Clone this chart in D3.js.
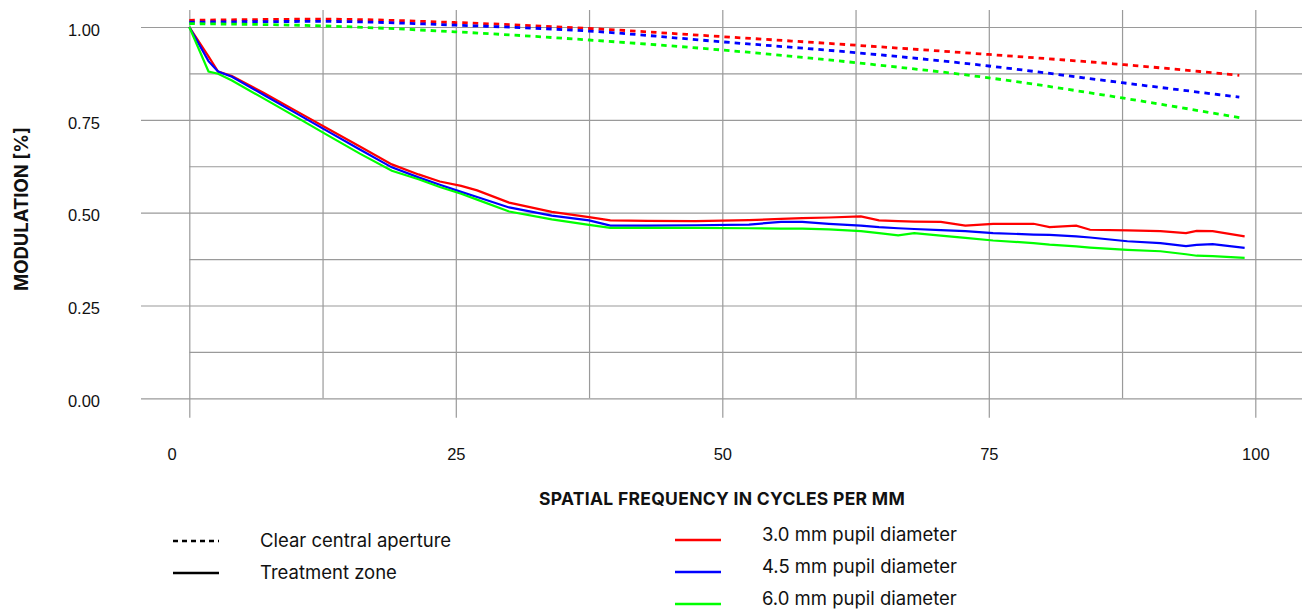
<!DOCTYPE html>
<html>
<head>
<meta charset="utf-8">
<script src="https://cdn.jsdelivr.net/npm/d3@7"></script>
<style>
  body { margin: 0; background: #fff; }
  svg { display: block; font-family: Inter, "Open Sans", sans-serif; }
  .grid line { stroke: #9a9a9a; stroke-width: 1.2; }
  .grid path { display: none; }
  .tick text { fill: #111; font-size: 16.5px; }
  .title { font-weight: 700; fill: #111; }
  .legend text { font-size: 18.5px; fill: #111; }
</style>
</head>
<body>
<div id="chart"></div>
<script>
// spatial frequency (cycles/mm) sample points
const treatmentFreq = [0, 1.8, 2.7, 4, 7, 10, 13, 16, 19, 21.5, 23.5, 25.5, 27, 30, 34, 37.5, 39.5, 43, 47.5, 52.5, 55.5, 57.5, 60, 63, 64.7, 66.5, 68, 70.5, 72.8, 75.4, 79.2, 80.7, 83.2, 84.5, 88, 91.1, 93.5, 94.5, 96, 99];
const treatment30 = [1.0, 0.921, 0.88, 0.868, 0.822, 0.774, 0.726, 0.678, 0.630, 0.603, 0.584, 0.572, 0.560, 0.527, 0.502, 0.488, 0.479, 0.478, 0.477, 0.480, 0.483, 0.485, 0.487, 0.490, 0.479, 0.477, 0.476, 0.475, 0.465, 0.470, 0.470, 0.461, 0.465, 0.454, 0.452, 0.450, 0.445, 0.451, 0.450, 0.436];
const treatment45 = [1.0, 0.908, 0.88, 0.866, 0.817, 0.768, 0.719, 0.670, 0.622, 0.595, 0.575, 0.556, 0.542, 0.514, 0.492, 0.479, 0.465, 0.465, 0.466, 0.468, 0.475, 0.475, 0.470, 0.465, 0.461, 0.458, 0.456, 0.453, 0.450, 0.445, 0.441, 0.440, 0.436, 0.433, 0.423, 0.418, 0.410, 0.413, 0.415, 0.405];
const treatment60 = [1.0, 0.88, 0.874, 0.856, 0.807, 0.758, 0.708, 0.659, 0.613, 0.590, 0.569, 0.551, 0.535, 0.503, 0.482, 0.467, 0.459, 0.459, 0.459, 0.458, 0.457, 0.457, 0.455, 0.450, 0.445, 0.439, 0.445, 0.438, 0.432, 0.425, 0.418, 0.414, 0.409, 0.406, 0.400, 0.396, 0.388, 0.384, 0.383, 0.378];

const apertureFreq = [0, 12.5, 25, 37.5, 50, 62.5, 75, 87.5, 98.5];
const aperture30 = [1.018, 1.021, 1.012, 0.996, 0.974, 0.951, 0.926, 0.899, 0.870];
const aperture45 = [1.013, 1.015, 1.005, 0.989, 0.960, 0.931, 0.895, 0.850, 0.811];
const aperture60 = [1.009, 1.003, 0.987, 0.965, 0.938, 0.904, 0.863, 0.809, 0.756];

const xMajor = [0, 25, 50, 75, 100];
const xMinor = [12.5, 37.5, 62.5, 87.5];
const yMajor = [0, 0.25, 0.5, 0.75, 1];
const yMinor = [0.125, 0.375, 0.625, 0.875];

const pupilLabels = ["3.0 mm pupil diameter", "4.5 mm pupil diameter", "6.0 mm pupil diameter"];
const colors = ["#ff0000", "#0000ff", "#00ff00"];

const width = 1303, height = 610;

const svg = d3.select("#chart").append("svg")
    .attr("width", width)
    .attr("height", height);

const x = d3.scaleLinear().domain([0, 100]).range([189.3, 1255.3]);
const y = d3.scaleLinear().domain([0, 1]).range([398.3, 27]);
const gridTop = 10, gridRight = 1302, majorLeft = 141, majorBottom = 417.7;

// minor grid
svg.append("g")
    .attr("class", "grid")
    .attr("transform", "translate(0," + gridTop + ")")
    .call(d3.axisBottom(x).tickValues(xMinor).tickSize(y(0) - gridTop).tickFormat(""));

svg.append("g")
    .attr("class", "grid")
    .attr("transform", "translate(" + x(0) + ",0)")
    .call(d3.axisLeft(y).tickValues(yMinor).tickSize(-(gridRight - x(0))).tickFormat(""));

// major grid + labels
const xAxis = svg.append("g")
    .attr("class", "grid")
    .attr("transform", "translate(0," + gridTop + ")")
    .call(d3.axisBottom(x).tickValues(xMajor).tickSize(majorBottom - gridTop).tickPadding(31).tickFormat(d3.format("d")));
xAxis.selectAll(".tick text").filter(d => d === 0).attr("dx", -17.6);

svg.append("g")
    .attr("class", "grid")
    .attr("transform", "translate(" + majorLeft + ",0)")
    .call(d3.axisLeft(y).tickValues(yMajor).tickSize(-(gridRight - majorLeft)).tickPadding(41).tickFormat(d3.format(".2f")))
    .selectAll(".tick text").attr("dy", "0.5em");

// axis titles
svg.append("text")
    .attr("class", "title")
    .attr("x", 722)
    .attr("y", 505)
    .attr("text-anchor", "middle")
    .style("font-size", "17.5px")
    .style("letter-spacing", "0.3px")
    .text("SPATIAL FREQUENCY IN CYCLES PER MM");

svg.append("text")
    .attr("class", "title")
    .attr("transform", "translate(28,209) rotate(-90)")
    .attr("text-anchor", "middle")
    .style("font-size", "18.5px")
    .text("MODULATION [%]");

// curves
const line = (xs, ys, curve) => d3.line()
    .x((d, i) => x(xs[i]))
    .y(d => y(d))
    .curve(curve)(ys);

[aperture30, aperture45, aperture60].forEach((s, i) => {
    svg.append("path")
        .attr("d", line(apertureFreq, s, d3.curveMonotoneX))
        .attr("fill", "none")
        .attr("stroke", colors[i])
        .attr("stroke-width", 2.8)
        .attr("stroke-dasharray", "5.5,5");
});

[treatment30, treatment45, treatment60].forEach((s, i) => {
    svg.append("path")
        .attr("d", line(treatmentFreq, s, d3.curveLinear))
        .attr("fill", "none")
        .attr("stroke", colors[i])
        .attr("stroke-width", 2.2);
});

// legend
const legend = svg.append("g").attr("class", "legend");
[["Clear central aperture", "5,4"], ["Treatment zone", null]].forEach((d, i) => {
    const ly = 541 + i * 32;
    legend.append("line")
        .attr("x1", 173).attr("x2", 219)
        .attr("y1", ly).attr("y2", ly)
        .attr("stroke", "#000")
        .attr("stroke-width", 2.4)
        .attr("stroke-dasharray", d[1]);
    legend.append("text")
        .attr("x", 260).attr("y", ly)
        .attr("dy", "0.35em")
        .text(d[0]);
});

pupilLabels.forEach((d, i) => {
    const ly = 540 + i * 32;
    legend.append("line")
        .attr("x1", 675).attr("x2", 721)
        .attr("y1", ly).attr("y2", ly)
        .attr("stroke", colors[i])
        .attr("stroke-width", 2.4);
    legend.append("text")
        .attr("x", 762).attr("y", ly - 5)
        .attr("dy", "0.35em")
        .text(d);
});
</script>
</body>
</html>
